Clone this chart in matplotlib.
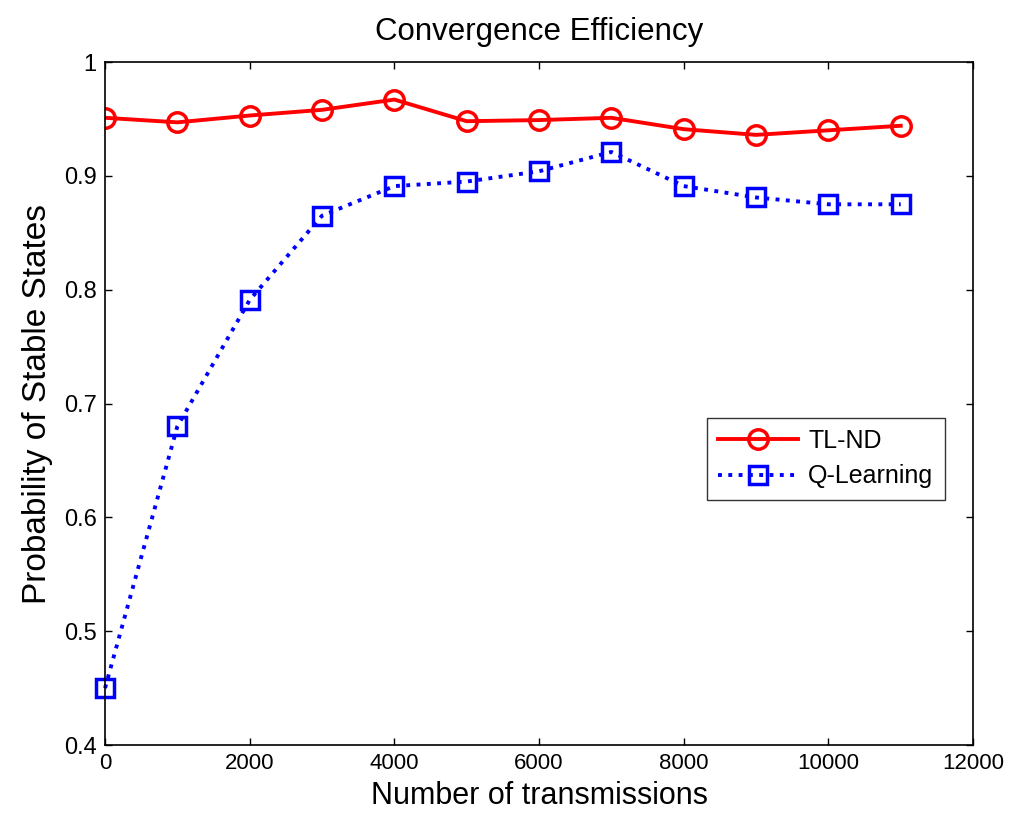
import matplotlib
matplotlib.use("Agg")
import matplotlib.pyplot as plt

x_vals = [0, 1000, 2000, 3000, 4000, 5000, 6000, 7000, 8000, 9000, 10000, 11000]
tl_nd = [0.951, 0.947, 0.953, 0.958, 0.967, 0.948, 0.949, 0.951, 0.941, 0.936, 0.940, 0.944]
q_learning = [0.450, 0.680, 0.791, 0.865, 0.891, 0.895, 0.904, 0.921, 0.891, 0.881, 0.875, 0.875]
x_ticks = [0, 2000, 4000, 6000, 8000, 10000, 12000]
y_ticks = [0.4, 0.5, 0.6, 0.7, 0.8, 0.9, 1.0]
y_ticklabels = ["0.4", "0.5", "0.6", "0.7", "0.8", "0.9", "1"]

plt.rcParams['font.family'] = ['Liberation Sans', 'DejaVu Sans']

fig = plt.figure(figsize=(10.12, 8.16), dpi=100)
ax = fig.add_axes([0.1038, 0.087, 0.8577, 0.837])

ax.plot(x_vals, tl_nd, color='red', linestyle='-', linewidth=2.8, marker='o',
        markersize=14, markerfacecolor='none', markeredgewidth=2.5, label='TL-ND')
ax.plot(x_vals, q_learning, color='blue', linestyle=':', linewidth=2.8, marker='s',
        markersize=12.5, markerfacecolor='none', markeredgewidth=2.5, label='Q-Learning',
        clip_on=False)

ax.set_xlim(0, 12000)
ax.set_ylim(0.4, 1.0)
ax.set_xticks(x_ticks)
ax.set_yticks(y_ticks)
ax.set_yticklabels(y_ticklabels)
ax.tick_params(direction='in', top=True, right=True, labelsize=16, length=5, width=1)
ax.tick_params(axis='x', pad=6)
ax.tick_params(axis='y', pad=6, labelsize=17)
for s in ax.spines.values():
    s.set_linewidth(1.2)

ax.set_xlabel('Number of transmissions', fontsize=22, labelpad=5)
ax.set_ylabel('Probability of Stable States', fontsize=24, labelpad=8)
ax.set_title('Convergence Efficiency', fontsize=22.5, pad=16)

leg = ax.legend(loc='upper left', bbox_to_anchor=(0.6935, 0.4788), borderaxespad=0,
                fontsize=18, frameon=True, fancybox=False, edgecolor='black',
                handlelength=3.2, handletextpad=0.4, borderpad=0.45, labelspacing=0.45)
leg.get_frame().set_linewidth(1.0)

fig.savefig('out.png', dpi=100)
